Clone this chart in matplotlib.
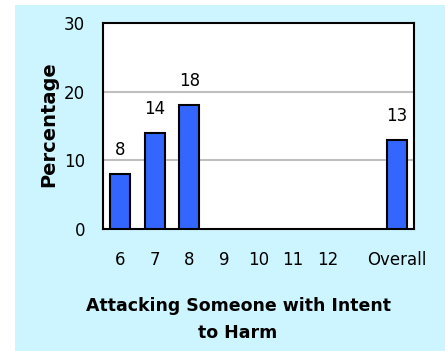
import matplotlib
matplotlib.use("Agg")
import matplotlib.pyplot as plt

# Grade categories (an empty slot separates the grades from the overall bar)
categories = ["6", "7", "8", "9", "10", "11", "12", "", "Overall"]
values = [8, 14, 18, None, None, None, None, None, 13]
y_ticks = [0, 10, 20, 30]

W, H, DPI = 445, 351, 100
fig = plt.figure(figsize=(W / DPI, H / DPI), dpi=DPI)
fig.patch.set_facecolor("white")

# light cyan panel behind the chart
bg = fig.add_axes([15 / W, 0, 1 - 15 / W, 1 - 5 / H], zorder=0)
bg.set_facecolor("#CCF5FF")
bg.set_xticks([])
bg.set_yticks([])
for s in bg.spines.values():
    s.set_visible(False)

left, right, top, bottom = 103, 414, 23, 229
ax = fig.add_axes([left / W, 1 - bottom / H, (right - left) / W, (bottom - top) / H], zorder=1)
ax.set_facecolor("white")

font = "DejaVu Sans"
fs = 12
x = list(range(len(categories)))
for xi, v in zip(x, values):
    if v is None:
        continue
    ax.bar(xi, v, width=0.58, color="#3366FF", edgecolor="black", linewidth=1.5, zorder=3)
    ax.text(xi, v + 2.2, str(v), ha="center", va="bottom", fontsize=fs,
            family=font, color="black", zorder=4)

ax.set_xlim(-0.5, len(categories) - 0.5)
ax.set_ylim(0, 30)
ax.set_yticks(y_ticks)
ax.set_yticklabels([str(t) for t in y_ticks], fontsize=fs, family=font)
ax.set_xticks(x)
ax.set_xticklabels(categories, fontsize=fs, family=font)
ax.tick_params(axis="both", length=0)
ax.tick_params(axis="y", pad=13)
ax.tick_params(axis="x", pad=16)
for t in (10, 20):
    ax.axhline(t, color="#BFBFBF", linewidth=1.5, zorder=1)
for s in ax.spines.values():
    s.set_linewidth(1.5)
    s.set_color("black")

ax.set_ylabel("Percentage", fontsize=14, fontweight="bold", family=font)
ax.yaxis.set_label_coords((58 - left) / (right - left), (bottom - 124) / (bottom - top))

fig.text(238 / W, 1 - 306 / H, "Attacking Someone with Intent", ha="center", va="center",
         fontsize=12.5, fontweight="bold", family=font)
fig.text(238 / W, 1 - 333 / H, "to Harm", ha="center", va="center",
         fontsize=12.5, fontweight="bold", family=font)

fig.savefig("out.png", dpi=DPI, facecolor=fig.get_facecolor())
